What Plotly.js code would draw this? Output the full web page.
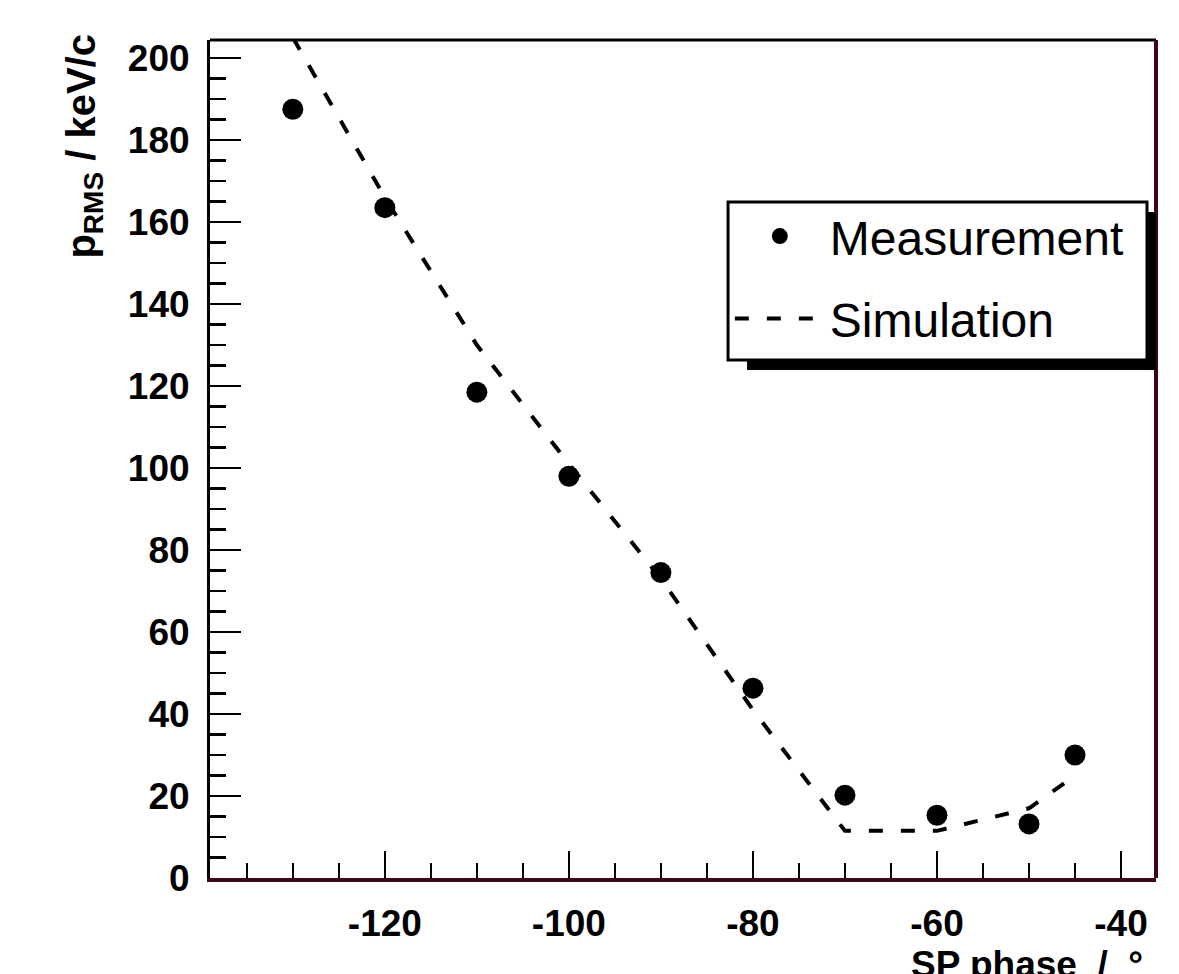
<!DOCTYPE html>
<html>
<head>
<meta charset="utf-8">
<script src="https://cdn.plot.ly/plotly-3.0.1.min.js"></script>
<style>
  html, body { margin: 0; padding: 0; background: #ffffff; }
  #chart { width: 1179px; height: 974px; }
</style>
</head>
<body>
<div id="chart"></div>
<script>
// SP phase (degrees)
const phase = [-130, -120, -110, -100, -90, -80, -70, -60, -50, -45];
// Measured p_RMS (keV/c)
const measurement = [187.5, 163.5, 118.5, 98, 74.5, 46.3, 20.2, 15.3, 13.2, 30];
// Simulated p_RMS (keV/c)
const simulation = [205, 166, 130, 101, 73, 41, 11.5, 11.5, 17, 25];

const xTickVals = [-120, -100, -80, -60, -40];
const yTickVals = [0, 20, 40, 60, 80, 100, 120, 140, 160, 180, 200];

const FONT = "'Liberation Sans', Arial, Helvetica, sans-serif";
const MAROON = '#3c0712';

const traces = [
  {
    x: phase, y: measurement,
    type: 'scatter', mode: 'markers',
    name: 'Measurement',
    legendgroup: 'm',
    marker: { symbol: 'circle', size: 21, color: '#000000' },
    cliponaxis: true
  },
  {
    x: phase, y: simulation,
    type: 'scatter', mode: 'lines',
    name: 'Simulation',
    legendgroup: 's',
    line: { color: '#000000', width: 4, dash: '14px,18px' },
    cliponaxis: true
  }
];

const layout = {
  width: 1179, height: 974,
  paper_bgcolor: '#ffffff', plot_bgcolor: '#ffffff',
  margin: { l: 210, r: 23, t: 40, b: 96 },
  showlegend: true,
  legend: {
    x: 0.5495, y: 0.811, xanchor: 'left', yanchor: 'top',
    bgcolor: 'rgba(0,0,0,0)', borderwidth: 0,
    font: { family: FONT, size: 48, color: '#000000' },
    itemwidth: 90,
    tracegroupgap: 17
  },
  xaxis: {
    range: [-139, -36.2],
    tickmode: 'array', tickvals: xTickVals, ticktext: xTickVals.map(String),
    ticks: 'inside', ticklen: 27, tickwidth: 2.5, tickcolor: '#000000',
    minor: { dtick: 5, tick0: 0, ticks: 'inside', ticklen: 15, tickwidth: 2.5, tickcolor: '#000000' },
    showgrid: false, zeroline: false,
    showline: true, linecolor: MAROON, linewidth: 4,
    tickfont: { family: FONT, size: 37, color: '#000000', weight: 'bold' },
    ticklabelstandoff: 10
  },
  yaxis: {
    range: [0, 204.4],
    tickmode: 'array', tickvals: yTickVals, ticktext: yTickVals.map(String),
    ticks: 'inside', ticklen: 31, tickwidth: 2.5, tickcolor: '#000000',
    minor: { dtick: 5, tick0: 0, ticks: 'inside', ticklen: 16, tickwidth: 2.5, tickcolor: '#000000' },
    showgrid: false, zeroline: false,
    showline: true, linecolor: '#000000', linewidth: 3,
    tickfont: { family: FONT, size: 37, color: '#000000', weight: 'bold' },
    ticklabelstandoff: 10
  },
  shapes: [
    // top frame
    { type: 'line', xref: 'paper', yref: 'paper', x0: 0, x1: 1, y0: 1, y1: 1,
      line: { color: '#000000', width: 3 }, layer: 'above' },
    // right frame
    { type: 'line', xref: 'paper', yref: 'paper', x0: 1, x1: 1, y0: 0, y1: 1,
      line: { color: MAROON, width: 4 }, layer: 'above' },
    // legend shadow
    { type: 'rect', xref: 'paper', yref: 'paper', x0: 0.5677, x1: 1.0, y0: 0.6062, y1: 0.7947,
      fillcolor: '#000000', line: { width: 0 }, layer: 'above' },
    // legend box
    { type: 'rect', xref: 'paper', yref: 'paper', x0: 0.5476, x1: 0.9905, y0: 0.6181, y1: 0.8067,
      fillcolor: '#ffffff', line: { color: '#000000', width: 3 }, layer: 'above' }
  ],
  annotations: [
    {
      text: 'p<sub>RMS</sub> / keV/c',
      xref: 'paper', yref: 'paper', x: -0.1342, y: 1.0095,
      xanchor: 'center', yanchor: 'top', textangle: -90, showarrow: false,
      font: { family: FONT, size: 40, color: '#000000', weight: 'bold' }
    },
    {
      text: 'SP phase  /  °',
      xref: 'paper', yref: 'paper', x: 0.9884, y: -0.076,
      xanchor: 'right', yanchor: 'top', showarrow: false,
      font: { family: FONT, size: 37, color: '#000000', weight: 'bold' }
    }
  ]
};

Plotly.newPlot('chart', traces, layout, { displayModeBar: false, staticPlot: true });
</script>
</body>
</html>
